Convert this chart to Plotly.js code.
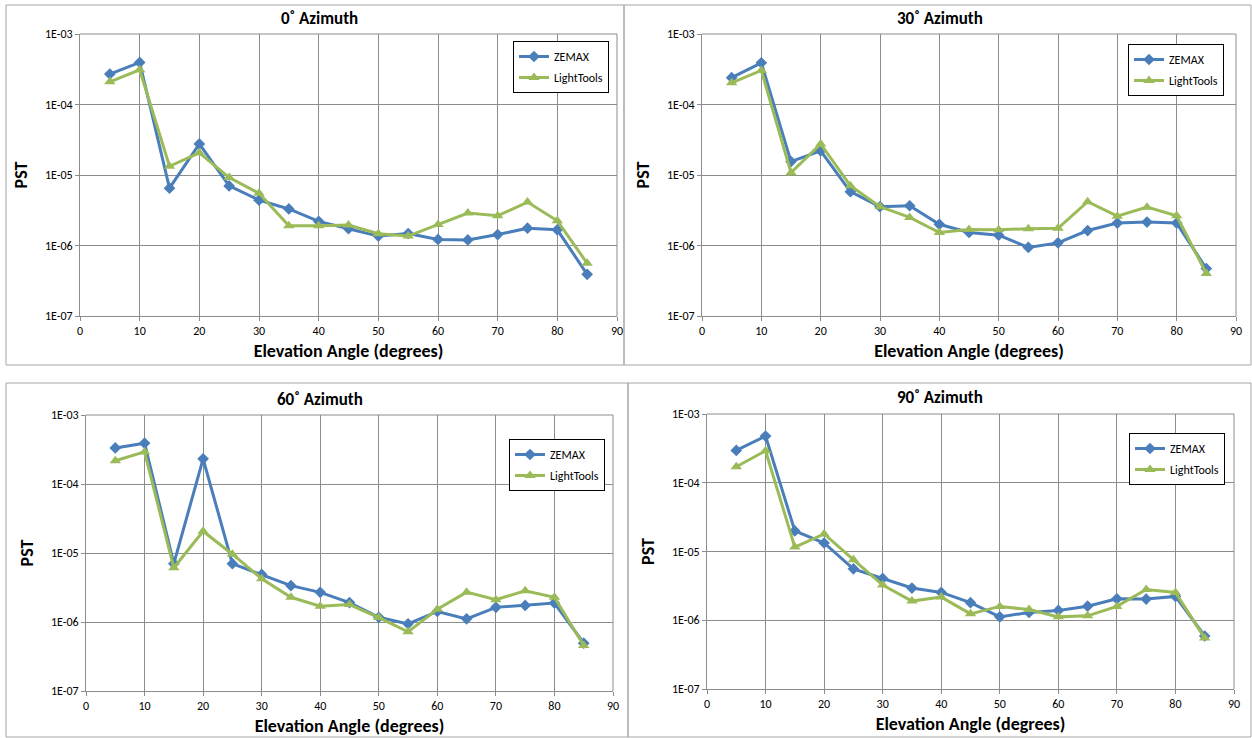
<!DOCTYPE html>
<html>
<head>
<meta charset="utf-8">
<script src="https://cdn.plot.ly/plotly-3.0.1.min.js"></script>
<style>
html,body{margin:0;padding:0;background:#fff;}
#chart{width:1252px;height:738px;}
</style>
</head>
<body>
<div id="chart"></div>
<script>
// ---- data ----
const angles = [5,10,15,20,25,30,35,40,45,50,55,60,65,70,75,80,85];
const panelTitles = ["0˚ Azimuth","30˚ Azimuth","60˚ Azimuth","90˚ Azimuth"];
const seriesNames = ["ZEMAX","LightTools"];
const yTickVals = [1e-7,1e-6,1e-5,1e-4,1e-3];
const yTickText = ["1E-07","1E-06","1E-05","1E-04","1E-03"];
const xTickVals = [0,10,20,30,40,50,60,70,80,90];

const zemax0 = [2.7e-4,3.95e-4,6.5e-6,2.76e-5,7.0e-6,4.4e-6,3.3e-6,2.2e-6,1.73e-6,1.36e-6,1.48e-6,1.22e-6,1.2e-6,1.43e-6,1.76e-6,1.67e-6,3.9e-7];
const light0 = [2.1e-4,3.1e-4,1.33e-5,2.06e-5,9.2e-6,5.5e-6,1.9e-6,1.9e-6,1.95e-6,1.47e-6,1.36e-6,1.99e-6,2.88e-6,2.64e-6,4.13e-6,2.24e-6,5.6e-7];
const zemax30 = [2.4e-4,3.9e-4,1.55e-5,2.2e-5,5.8e-6,3.55e-6,3.66e-6,2.0e-6,1.53e-6,1.4e-6,9.4e-7,1.09e-6,1.63e-6,2.08e-6,2.15e-6,2.08e-6,4.7e-7];
const light30 = [2.03e-4,3.04e-4,1.08e-5,2.76e-5,7.06e-6,3.55e-6,2.5e-6,1.53e-6,1.69e-6,1.67e-6,1.73e-6,1.75e-6,4.18e-6,2.61e-6,3.5e-6,2.64e-6,4.0e-7];
const zemax60 = [3.33e-4,3.9e-4,7.0e-6,2.32e-4,7.0e-6,4.9e-6,3.36e-6,2.69e-6,1.91e-6,1.17e-6,9.4e-7,1.42e-6,1.11e-6,1.63e-6,1.74e-6,1.88e-6,4.93e-7];
const light60 = [2.17e-4,2.92e-4,6.1e-6,2.07e-5,9.6e-6,4.24e-6,2.28e-6,1.69e-6,1.79e-6,1.16e-6,7.2e-7,1.53e-6,2.71e-6,2.1e-6,2.84e-6,2.28e-6,4.57e-7];
const zemax90 = [2.95e-4,4.78e-4,1.99e-5,1.33e-5,5.6e-6,4.06e-6,2.94e-6,2.54e-6,1.8e-6,1.12e-6,1.3e-6,1.39e-6,1.6e-6,2.05e-6,2.03e-6,2.22e-6,5.9e-7];
const light90 = [1.71e-4,2.92e-4,1.16e-5,1.8e-5,7.6e-6,3.25e-6,1.9e-6,2.17e-6,1.24e-6,1.59e-6,1.43e-6,1.12e-6,1.16e-6,1.59e-6,2.8e-6,2.54e-6,5.5e-7];

const zemaxAll = [zemax0, zemax30, zemax60, zemax90];
const lightAll = [light0, light30, light60, light90];

// ---- layout geometry (pixels) ----
const W = 1252, H = 738;
const FONT = "Carlito, Calibri, Lato, 'Open Sans', sans-serif";
const BLUE = "#4A7EBB", GREEN = "#9BBB59", GRID = "#8C8C8C";

// plot areas [x0,x1,y0,y1] in px (y from top)
const areas = [
  [80, 617, 34, 316],
  [702, 1236, 34, 316],
  [86, 613, 415, 691],
  [707, 1234, 414, 689]
];
// legend boxes [left, top]
const legendPos = [[513,41],[1128,44],[509,439],[1129,433]];
// panel titles centre [x,y]
const titlePos = [[319,19],[940,19],[320,399],[940,397]];
// panel frames [x0,y0,x1,y1]
const frames = [[6,5,624,365],[624,5,1251,365],[6,383,628,737],[628,383,1251,737]];

const px = v => v / W;
const py = v => 1 - v / H;

const data = [];
const layout = {
  width: W, height: H,
  margin: {l:0, r:0, t:0, b:0},
  paper_bgcolor: "#fff",
  plot_bgcolor: "#fff",
  font: {family: FONT, size: 11, color: "#000"},
  showlegend: true,
  annotations: [],
  shapes: []
};

for (let i = 0; i < 4; i++) {
  const sfx = i === 0 ? "" : String(i + 1);
  const xa = "x" + sfx, ya = "y" + sfx;
  const lg = i === 0 ? "legend" : "legend" + (i + 1);
  data.push({
    x: angles, y: zemaxAll[i], xaxis: xa, yaxis: ya, legend: lg,
    legendgroup: "z" + i,
    name: seriesNames[0], type: "scatter", mode: "lines+markers",
    line: {color: BLUE, width: 3},
    marker: {symbol: "diamond", size: 9, color: BLUE}
  });
  data.push({
    x: angles, y: lightAll[i], xaxis: xa, yaxis: ya, legend: lg,
    legendgroup: "l" + i,
    name: seriesNames[1], type: "scatter", mode: "lines+markers",
    line: {color: GREEN, width: 3},
    marker: {symbol: "triangle-up", size: 10, color: GREEN}
  });
  const a = areas[i];
  layout["xaxis" + sfx] = {
    domain: [px(a[0]), px(a[1])],
    anchor: ya,
    range: [0, 90],
    tickvals: xTickVals,
    ticks: "outside", ticklen: 4, tickcolor: GRID,
    showgrid: true, gridcolor: GRID, gridwidth: 1,
    showline: true, linecolor: GRID, linewidth: 1, mirror: false,
    zeroline: false,
    tickfont: {family: FONT, size: 12, color: "#000"},
    title: {text: "Elevation Angle (degrees)", font: {family: FONT, size: 18, color: "#000", weight: "bold"}, standoff: 6}
  };
  layout["yaxis" + sfx] = {
    domain: [py(a[3]), py(a[2])],
    anchor: xa,
    type: "log",
    range: [-7, -3],
    tickvals: yTickVals, ticktext: yTickText,
    ticks: "outside", ticklen: 4, tickcolor: GRID,
    showgrid: true, gridcolor: GRID, gridwidth: 1,
    showline: true, linecolor: GRID, linewidth: 1,
    zeroline: false,
    tickfont: {family: FONT, size: 12, color: "#000"},
    title: {text: "PST", font: {family: FONT, size: 18, color: "#000", weight: "bold"}, standoff: 12}
  };
  // right border of plot area
  layout.shapes.push({type: "line", xref: "paper", yref: "paper",
    x0: px(a[1]), x1: px(a[1]), y0: py(a[3]), y1: py(a[2]),
    line: {color: GRID, width: 1}});
  // top border of plot area
  layout.shapes.push({type: "line", xref: "paper", yref: "paper",
    x0: px(a[0]), x1: px(a[1]), y0: py(a[2]), y1: py(a[2]),
    line: {color: GRID, width: 1}});
  const lp = legendPos[i];
  layout[lg] = {
    x: px(lp[0]), y: py(lp[1]), xanchor: "left", yanchor: "top",
    xref: "paper", yref: "paper",
    bgcolor: "#fff", bordercolor: "#000", borderwidth: 1,
    font: {family: FONT, size: 12, color: "#000"},
    itemwidth: 30, traceorder: "grouped", tracegroupgap: 2
  };
  const tp = titlePos[i];
  layout.annotations.push({
    text: "<b>" + panelTitles[i] + "</b>", xref: "paper", yref: "paper",
    x: px(tp[0]), y: py(tp[1]), xanchor: "center", yanchor: "middle",
    showarrow: false, font: {family: FONT, size: 17, color: "#000"}
  });
  const f = frames[i];
  layout.shapes.push({type: "rect", xref: "paper", yref: "paper",
    x0: px(f[0]), x1: px(f[2]), y0: py(f[3]), y1: py(f[1]),
    line: {color: "#A6A6A6", width: 1}, layer: "below"});
}

Plotly.newPlot("chart", data, layout, {displayModeBar: false, staticPlot: true});
</script>
</body>
</html>
